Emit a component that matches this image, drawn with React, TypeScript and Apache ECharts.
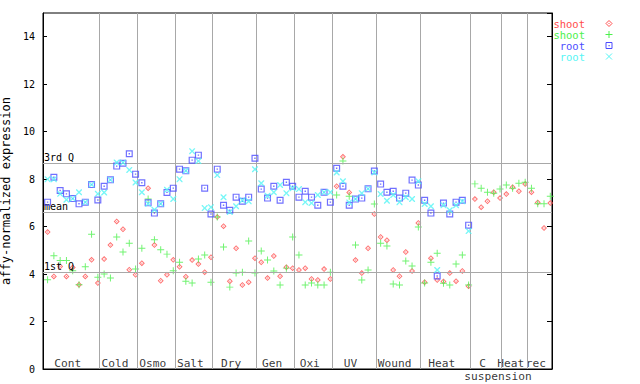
import React, { useEffect, useRef } from "react";
import * as echarts from "echarts";

// ---- data ----
const groupNames = ["Cont", "Cold", "Osmo", "Salt", "Dry", "Gen", "Oxi", "UV", "Wound", "Heat", "C", "Heat", "rec"];
const groupCounts = [9, 6, 6, 6, 7, 6, 6, 7, 7, 8, 5, 4, 4];
const subLabel = "suspension"; // second line of "C suspension"

const shootRed = [
  5.77, 3.9, 4.32, 3.9, 4.28, 3.55, 3.9, 4.6, 3.62,
  4.63, 5.22, 6.22, 5.89, 4.18, 3.97,
  4.46, 7.62, 5.22, 3.72, 3.97, 4.6,
  4.31, 3.89, 4.59, 4.42, 4.08, 4.71,
  6.4, 6.02, 3.7, 5.09, 3.54, 3.66, 4.67,
  4.5, 3.83, 4.76, 3.91, 4.29, 4.25,
  4.17, 4.25, 3.79, 3.75, 4.21, 3.79,
  7.7, 8.94, 7.44, 4.59, 4.04, 5.09, 6.53,
  5.56, 5.43, 4.17, 3.91, 4.93, 4.13, 6.15,
  3.66, 4.67, 3.75, 3.69, 4.04, 3.7, 4.13, 3.49,
  7.16, 6.82, 7.07, 7.45, 7.2,
  7.37, 7.66, 7.49, 7.79,
  7.45, 7.02, 5.94, 6.99,
];
const shootGreen = [
  3.76, 4.77, 4.57, 4.57, 4.14, 3.55, 4.31, 5.68, 3.87,
  4.0, 3.83, 5.56, 4.93, 5.3, 4.21,
  5.09, 7.16, 5.45, 5.02, 4.84, 4.14,
  4.5, 3.7, 3.62, 4.63, 4.8, 3.66,
  6.4, 5.14, 3.45, 4.04, 4.08, 5.39, 4.04,
  4.97, 4.59, 4.13, 3.54, 4.25, 5.56,
  4.8, 3.54, 3.62, 3.54, 3.54, 4.08,
  7.33, 8.76, 7.28, 5.22, 3.75, 4.17, 6.95,
  5.3, 5.18, 3.58, 3.54, 4.55, 4.34, 5.98,
  3.62, 4.5, 4.88, 3.61, 3.54, 4.42, 4.8, 3.54,
  7.8, 7.62, 7.45, 7.41, 7.58,
  7.75, 7.62, 7.83, 7.87,
  7.62, 6.96, 6.96, 7.28,
];
const rootBlue = [
  7.03, 8.08, 7.52, 7.38, 7.18, 6.96, 7.03, 7.77, 7.12,
  7.7, 7.97, 8.55, 8.67, 9.07, 8.21,
  7.85, 7.0, 6.57, 6.96, 7.44, 7.62,
  8.42, 8.35, 8.8, 9.01, 7.62, 6.53,
  8.42, 6.9, 6.69, 7.24, 7.07, 7.24, 8.88,
  7.58, 7.2, 7.7, 7.11, 7.87, 7.7,
  7.24, 7.49, 7.24, 6.9, 7.45, 7.03,
  8.46, 7.7, 6.9, 7.16, 7.2, 7.59, 8.34,
  7.79, 7.45, 7.49, 7.2, 7.41, 7.96, 7.75,
  7.11, 6.57, 3.92, 6.99, 6.53, 7.03, 7.11, 6.06,
];
const rootCyan = [
  8.0, 8.0, 7.38, 7.13, 7.18, 7.45, 7.03, 7.77, 7.38,
  7.44, 7.97, 8.7, 8.7, 8.39, 7.86,
  7.45, 6.96, 6.71, 6.96, 7.55, 7.16,
  8.0, 8.35, 9.18, 8.76, 6.78, 6.82,
  8.17, 7.24, 6.62, 6.86, 7.11, 7.07, 8.42,
  7.83, 7.3, 7.45, 7.75, 7.41, 7.62,
  7.58, 7.03, 6.99, 7.33, 7.45, 7.45,
  8.28, 7.91, 7.02, 7.16, 7.41, 7.59, 8.28,
  7.37, 7.09, 7.33, 7.03, 7.24, 7.16, 7.91,
  6.95, 6.86, 4.17, 6.9, 6.69, 6.9, 7.07, 5.81,
];
const refLines = [
  { name: "3rd Q", value: 8.67 },
  { name: "mean", value: 6.59 },
  { name: "1st Q", value: 4.08 },
];
const legendItems = [
  { text: "shoot", color: "#ff4c4c", icon: "diamond" },
  { text: "shoot", color: "#4cf04c", icon: "plus" },
  { text: "root", color: "#4c4cff", icon: "square" },
  { text: "root", color: "#55f5f5", icon: "cross" },
];

// ---- styling ----
const MONO = '"DejaVu Sans Mono", monospace';
const GRID = "#a8a8a8";
const X_OFF = 0.73;
const SYM_DIAMOND = "path://M5,0L10,5L5,10L0,5Z M5,2.2L2.2,5L5,7.8L7.8,5Z M4.2,4.2L5.8,4.2L5.8,5.8L4.2,5.8Z";
const SYM_PLUS = "path://M4.3,0L5.7,0L5.7,4.3L10,4.3L10,5.7L5.7,5.7L5.7,10L4.3,10L4.3,5.7L0,5.7L0,4.3L4.3,4.3Z";
const SYM_SQUARE = "path://M0,0L10,0L10,10L0,10Z M1.7,1.7L1.7,8.3L8.3,8.3L8.3,1.7Z M4,4L6,4L6,6L4,6Z";
const SYM_CROSS = "path://M0,0L1.6,0L5,3.4L8.4,0L10,0L10,1.6L6.6,5L10,8.4L10,10L8.4,10L5,6.6L1.6,10L0,10L0,8.4L3.4,5L0,1.6Z";

function toPoints(arr: number[]) {
  return arr.map((v, i) => [i + X_OFF, v]);
}

function legendGraphics() {
  const els: any[] = [];
  const tx = 585;
  const ix = 609;
  legendItems.forEach((it, k) => {
    const y = 23.5 + k * 11;
    els.push({
      type: "text",
      x: tx,
      y: y,
      z: 100,
      style: {
        text: it.text,
        fill: it.color,
        font: `10.5px ${MONO}`,
        lineHeight: 10,
        align: "right",
        verticalAlign: "middle",
      },
    });
    const st = { stroke: it.color, fill: "none", lineWidth: 1 };
    if (it.icon === "diamond") {
      els.push({ type: "polygon", z: 100, shape: { points: [[ix, y - 3], [ix + 3, y], [ix, y + 3], [ix - 3, y]] }, style: st });
      els.push({ type: "rect", z: 100, shape: { x: ix - 0.5, y: y - 0.5, width: 1, height: 1 }, style: { fill: it.color } });
    } else if (it.icon === "plus") {
      els.push({ type: "line", z: 100, shape: { x1: ix - 3.5, y1: y, x2: ix + 3.5, y2: y }, style: st });
      els.push({ type: "line", z: 100, shape: { x1: ix, y1: y - 3.5, x2: ix, y2: y + 3.5 }, style: st });
    } else if (it.icon === "square") {
      els.push({ type: "rect", z: 100, shape: { x: ix - 3, y: y - 3, width: 6, height: 6 }, style: st });
      els.push({ type: "rect", z: 100, shape: { x: ix - 0.5, y: y - 0.5, width: 1.2, height: 1.2 }, style: { fill: it.color } });
    } else {
      els.push({ type: "line", z: 100, shape: { x1: ix - 3, y1: y - 3, x2: ix + 3, y2: y + 3 }, style: st });
      els.push({ type: "line", z: 100, shape: { x1: ix - 3, y1: y + 3, x2: ix + 3, y2: y - 3 }, style: st });
    }
  });
  return els;
}

export default function App() {
  const ref = useRef<HTMLDivElement>(null);

  useEffect(() => {
    if (!ref.current) return;
    const chart = echarts.init(ref.current, undefined, { renderer: "svg" });

    const total = groupCounts.reduce((a, b) => a + b, 0);
    const bounds: number[] = [];
    let acc = 0;
    const labelData: any[] = [];
    groupCounts.forEach((c, g) => {
      labelData.push({ name: groupNames[g], value: [acc + c / 2 - 0.55, 0.22] });
      if (groupNames[g] === "C") {
        labelData.push({ name: subLabel, value: [acc + c / 2 + 1.9, -0.32] });
      }
      acc += c;
      if (acc < total) bounds.push(acc);
    });

    const markLineData: any[] = [
      ...bounds.map((b) => ({ xAxis: b, label: { show: false } })),
      ...refLines.map((r) => ({ name: r.name, yAxis: r.value })),
    ];

    chart.setOption({
      animation: false,
      backgroundColor: "#fff",
      grid: {
        left: 43,
        right: 88,
        top: 13,
        bottom: 15,
        show: true,
        borderColor: "#000",
        borderWidth: 1,
        containLabel: false,
        outerBoundsMode: "none",
      },
      xAxis: {
        type: "value",
        min: 0,
        max: total,
        axisLine: { show: true, lineStyle: { color: "#000" } },
        axisTick: { show: false },
        axisLabel: { show: false },
        splitLine: { show: false },
      },
      yAxis: [
        {
          type: "value",
          min: 0,
          max: 15,
          interval: 2,
          name: "affy-normalized expression",
          nameLocation: "middle",
          nameGap: 27,
          nameTextStyle: { fontFamily: MONO, fontSize: 12, color: "#000" },
          axisLine: { show: true, lineStyle: { color: "#000" } },
          axisTick: { show: true, inside: true, length: 4, lineStyle: { color: "#000" } },
          axisLabel: { fontFamily: MONO, fontSize: 10, color: "#000", margin: 8, showMaxLabel: false },
          splitLine: { show: false },
        },
        {
          type: "value",
          min: 0,
          max: 15,
          interval: 2,
          position: "right",
          axisLine: { show: true, lineStyle: { color: "#000" } },
          axisTick: { show: true, inside: true, length: 5, lineStyle: { color: "#000" } },
          axisLabel: { show: false },
          splitLine: { show: false },
        },
      ],
      series: [
        {
          type: "scatter",
          name: "labels",
          silent: true,
          clip: false,
          symbolSize: 0,
          itemStyle: { color: "transparent" },
          data: labelData,
          label: {
            show: true,
            formatter: "{b}",
            position: [0, 0],
            align: "center",
            verticalAlign: "middle",
            fontFamily: MONO,
            fontSize: 11.2,
            lineHeight: 10,
            color: "#000",
          },
          markLine: {
            silent: true,
            symbol: ["none", "none"],
            lineStyle: { color: GRID, type: "solid", width: 1 },
            label: {
              show: true,
              formatter: "{b}",
              position: "insideStartTop",
              distance: [1, 1],
              fontFamily: MONO,
              fontSize: 10,
              color: "#000",
            },
            emphasis: { disabled: true },
            data: markLineData,
          },
          z: 1,
        },
        {
          type: "scatter",
          name: "shoot",
          symbol: SYM_DIAMOND,
          symbolSize: 6,
          itemStyle: { color: legendItems[0].color },
          data: toPoints(shootRed),
          z: 3,
        },
        {
          type: "scatter",
          name: "shoot2",
          symbol: SYM_PLUS,
          symbolSize: 7,
          itemStyle: { color: legendItems[1].color },
          data: toPoints(shootGreen),
          z: 4,
        },
        {
          type: "scatter",
          name: "root",
          symbol: SYM_SQUARE,
          symbolSize: 7,
          itemStyle: { color: legendItems[2].color },
          data: toPoints(rootBlue),
          z: 5,
        },
        {
          type: "scatter",
          name: "root2",
          symbol: SYM_CROSS,
          symbolSize: 6,
          itemStyle: { color: legendItems[3].color },
          data: toPoints(rootCyan),
          z: 6,
        },
      ],
      graphic: legendGraphics(),
    });

    return () => chart.dispose();
  }, []);

  return <div ref={ref} style={{ width: 640, height: 384, position: "absolute", left: 0, top: 0 }} />;
}
